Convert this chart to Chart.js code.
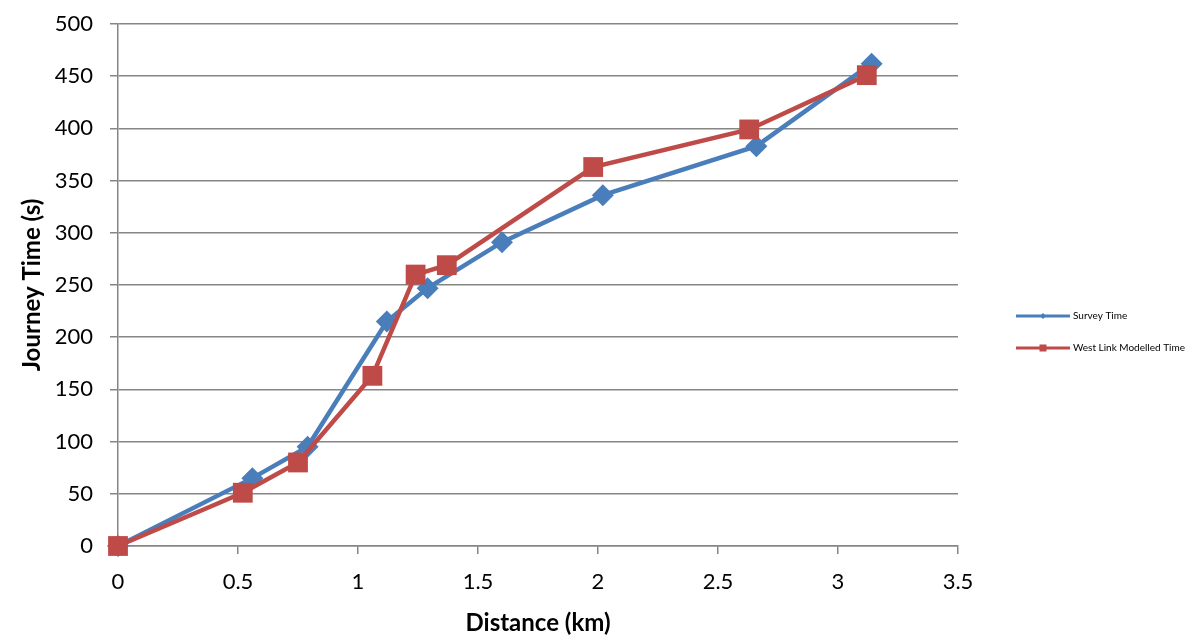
<!DOCTYPE html>
<html>
<head>
<meta charset="utf-8">
<script src="https://cdn.jsdelivr.net/npm/chart.js@4/dist/chart.umd.min.js"></script>
<style>
html,body{margin:0;padding:0;background:#fff;}
#wrap{width:1204px;height:642px;position:relative;}
</style>
</head>
<body>
<div id="wrap"><canvas id="c" width="1204" height="642"></canvas></div>
<script>
const seriesNames = ["Survey Time", "West Link Modelled Time"];
const surveyX = [0, 0.56, 0.79, 1.12, 1.29, 1.60, 2.02, 2.66, 3.14];
const surveyY = [0, 65, 95, 215, 247, 291, 336, 383, 462];
const modelX = [0, 0.52, 0.75, 1.06, 1.24, 1.37, 1.98, 2.63, 3.12];
const modelY = [0, 51, 80, 163, 260, 269, 363, 399, 451];
const xTitle = "Distance (km)";
const yTitle = "Journey Time (s)";

const blue = "#4A7EBB";
const red = "#BE4B48";
const grid = "#868686";
const FONT = "Lato, 'Liberation Sans', sans-serif";

const toPts = (xs, ys) => xs.map((x, i) => ({x: x, y: ys[i]}));

const legendPlugin = {
  id: 'customLegend',
  afterDraw(chart) {
    const ctx = chart.ctx;
    const x0 = 1016, lineLen = 54;
    const ys = [316, 348];
    chart.data.datasets.forEach((ds, i) => {
      const y = ys[i];
      ctx.save();
      ctx.strokeStyle = ds.borderColor;
      ctx.lineWidth = 3;
      ctx.beginPath();
      ctx.moveTo(x0, y);
      ctx.lineTo(x0 + lineLen, y);
      ctx.stroke();
      ctx.fillStyle = ds.backgroundColor;
      if (ds.pointStyle === 'rect') {
        ctx.fillRect(x0 + lineLen/2 - 3.5, y - 3.5, 7, 7);
      } else {
        ctx.beginPath();
        const cx = x0 + lineLen/2;
        ctx.moveTo(cx, y - 3); ctx.lineTo(cx + 3, y); ctx.lineTo(cx, y + 3); ctx.lineTo(cx - 3, y);
        ctx.closePath(); ctx.fill();
      }
      ctx.fillStyle = "#000";
      ctx.font = "10px " + FONT;
      ctx.textBaseline = "middle";
      ctx.textAlign = "left";
      ctx.fillText(ds.label, x0 + lineLen + 3, y);
      ctx.restore();
    });
  }
};

new Chart(document.getElementById('c'), {
  type: 'line',
  data: {
    datasets: [
      {
        label: seriesNames[0],
        data: toPts(surveyX, surveyY),
        borderColor: blue,
        backgroundColor: blue,
        borderWidth: 4.5,
        pointStyle: 'rectRot',
        pointRadius: 11,
        pointHoverRadius: 11,
        pointBorderWidth: 0,
        tension: 0,
        clip: false,
        order: 1
      },
      {
        label: seriesNames[1],
        data: toPts(modelX, modelY),
        borderColor: red,
        backgroundColor: red,
        borderWidth: 4.5,
        pointStyle: 'rect',
        pointRadius: 14,
        pointHoverRadius: 14,
        pointBorderWidth: 0,
        tension: 0,
        clip: false,
        order: 0
      }
    ]
  },
  options: {
    responsive: false,
    animation: false,
    layout: { autoPadding: false, padding: { left: 18, right: 246, top: 24, bottom: 0 } },
    plugins: {
      legend: { display: false },
      tooltip: { enabled: false }
    },
    scales: {
      x: {
        type: 'linear',
        min: 0, max: 3.5,
        ticks: { stepSize: 0.5, color: '#000', font: { family: FONT, size: 22 }, padding: 15, maxRotation: 0,
                 callback: (v) => String(v) },
        grid: { drawOnChartArea: false, color: grid, tickLength: 8, lineWidth: 1.5 },
        border: { color: grid, width: 1.5 },
        title: { display: true, text: xTitle, color: '#000', font: { family: FONT, size: 24, weight: 'bold' }, padding: { top: 0, bottom: 4 } },
        afterFit(s) { s.height = 96; s.paddingLeft = 0; s.paddingRight = 0; }
      },
      y: {
        min: 0, max: 500,
        ticks: { stepSize: 50, color: '#000', font: { family: FONT, size: 22 }, padding: 17 },
        grid: { color: grid, tickLength: 8, lineWidth: 1.5 },
        border: { color: grid, width: 1.5 },
        title: { display: true, text: yTitle, color: '#000', font: { family: FONT, size: 24, weight: 'bold' }, padding: { top: 0, bottom: 0 } },
        afterFit(s) { s.width = 100; s.paddingTop = 0; s.paddingBottom = 0; }
      }
    }
  },
  plugins: [legendPlugin]
});
</script>
</body>
</html>
